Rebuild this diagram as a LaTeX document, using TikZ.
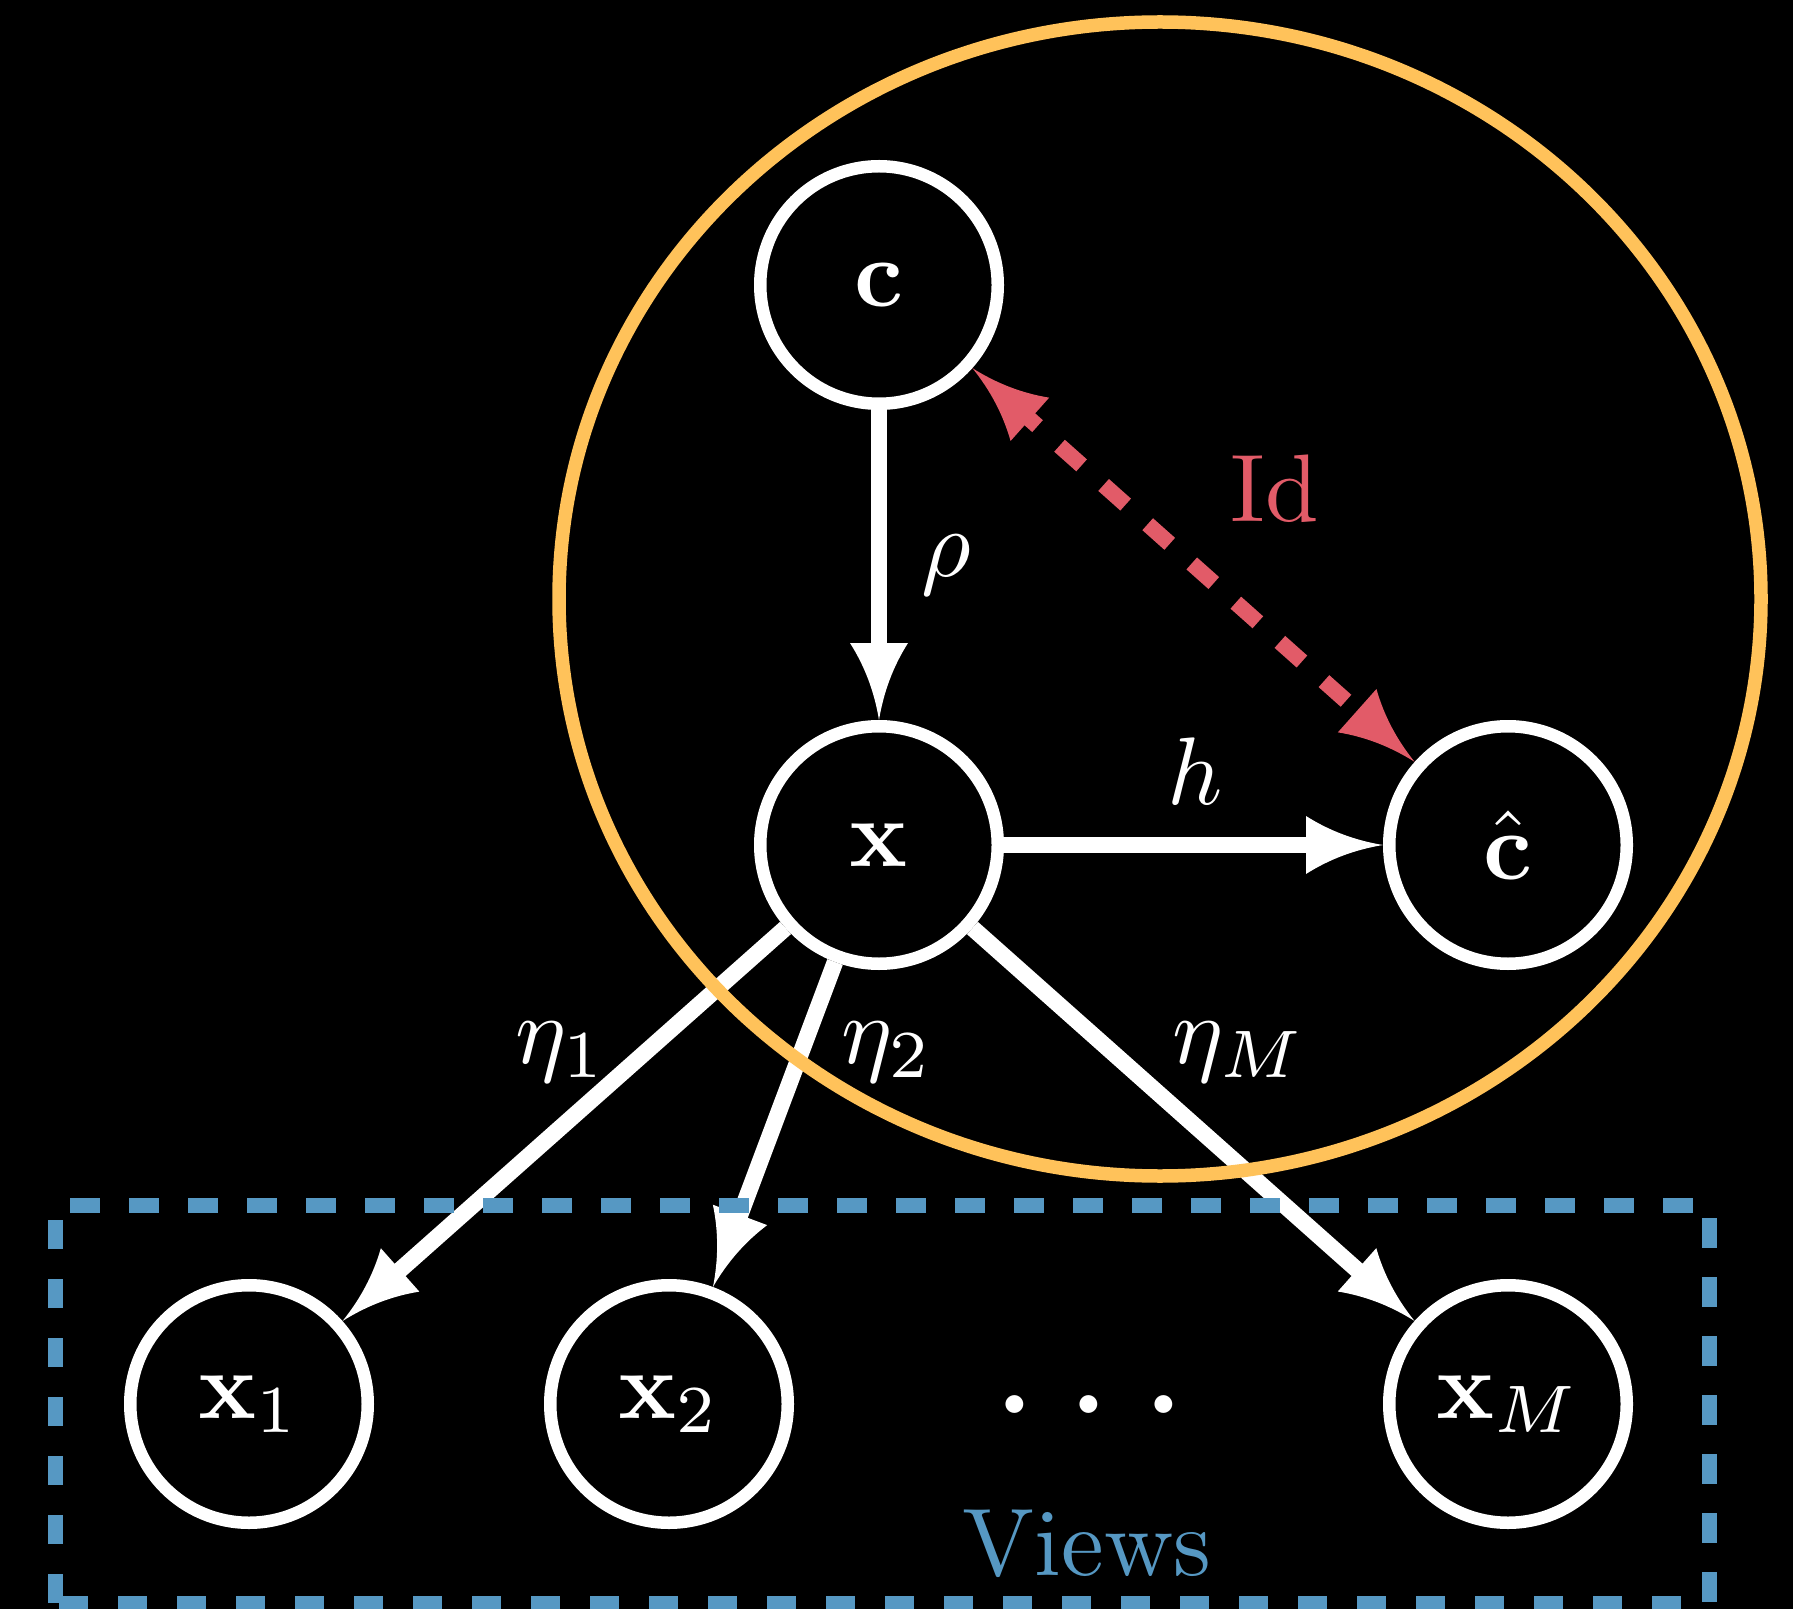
\documentclass[tikz,border=0pt]{standalone}
\usepackage{graphicx}
\usetikzlibrary{arrows.meta}
\definecolor{ellY}{RGB}{255,194,90}
\definecolor{viewB}{RGB}{86,152,195}
\definecolor{idR}{RGB}{226,91,104}
\newcommand{\sctx}[1]{\scalebox{4.8}{#1}}

\pgfdeclarearrow{
  name = Cv,
  parameters = {\the\pgfarrowlength,\the\pgfarrowwidth},
  setup code = {
    \pgfarrowssettipend{\pgfarrowlength}
    \pgfarrowssetlineend{.25\pgfarrowlength}
    \pgfarrowssetbackend{0pt}
    \pgfarrowshullpoint{\pgfarrowlength}{0pt}
    \pgfarrowsupperhullpoint{0pt}{.5\pgfarrowwidth}
    \pgfarrowssavethe\pgfarrowlength
    \pgfarrowssavethe\pgfarrowwidth
  },
  drawing code = {
    \pgfpathmoveto{\pgfqpoint{\pgfarrowlength}{0pt}}
    \pgfpathquadraticcurveto{\pgfqpoint{.45\pgfarrowlength}{.12\pgfarrowwidth}}{\pgfqpoint{0pt}{.5\pgfarrowwidth}}
    \pgfpathlineto{\pgfqpoint{0pt}{-.5\pgfarrowwidth}}
    \pgfpathquadraticcurveto{\pgfqpoint{.45\pgfarrowlength}{-.12\pgfarrowwidth}}{\pgfqpoint{\pgfarrowlength}{0pt}}
    \pgfpathclose
    \pgfusepathqfill
  },
  defaults = {length = 38pt, width = 28pt}
}

\tikzset{
  Hd/.tip={Cv[length=38.5pt,width=29pt]},
  nd/.style={circle, draw=white, line width=6.25pt, minimum size=118.75pt,
    inner sep=0pt, fill=black, text=white},
  conn/.style={draw=white, line width=8.25pt, -Hd},
  idline/.style={draw=idR, line width=8pt, dash pattern=on 14.75pt off 14.75pt, Hd-Hd},
  lbl/.style={inner sep=0pt, text=white},
}

\begin{document}
\begin{tikzpicture}[x=0.5pt,y=-0.5pt]
\useasboundingbox (0,0) rectangle (1793,1609);
\fill[black] (0,0) rectangle (1793,1609);

% nodes
\node[nd] (c)  at (879,285)   {\sctx{$\mathbf{c}$}};
\node[nd] (x)  at (879,845)   {\sctx{$\mathbf{x}$}};
\node[nd] (ch) at (1508,845)  {\sctx{$\hat{\mathbf{c}}$}};
\node[nd] (x1) at (249,1404)  {\sctx{$\mathbf{x}_1$}};
\node[nd] (x2) at (669,1404)  {\sctx{$\mathbf{x}_2$}};
\node[nd] (xM) at (1508,1404) {\sctx{$\mathbf{x}_M$}};
\node[anchor=base, inner sep=0pt, text=white] (dots) at (1089,1446) {\scalebox{8.4}{$\cdots$}};

% connectors
\draw[conn] (c) -- (x);
\draw[conn] (x) -- (ch);
\draw[conn] (x) -- (x1);
\draw[conn] (x) -- (x2);
\draw[conn] (x) -- (xM);
\draw[idline] (c) -- (ch);

% frames (drawn over the connectors)
\draw[ellY, line width=6.75pt] (1160,599) ellipse [x radius=300.5pt, y radius=288.5pt];
\draw[viewB, line width=7.5pt, dash pattern=on 14.75pt off 14.75pt] (55,1603) rectangle (1709,1205);

% labels
\node[lbl] (rho) at (946,565)  {\sctx{$\rho$}};
\node[lbl] (hl)  at (1195,771) {\sctx{$h$}};
\node[lbl, text=idR] (idl) at (1275,489) {\sctx{Id}};
\node[lbl] (e1)  at (561,1052)  {\sctx{$\eta_1$}};
\node[lbl] (e2)  at (887,1052)  {\sctx{$\eta_2$}};
\node[lbl] (eM)  at (1239,1052) {\sctx{$\eta_M$}};
\node[lbl, text=viewB] (views) at (1087,1544) {\sctx{Views}};
\end{tikzpicture}
\end{document}
